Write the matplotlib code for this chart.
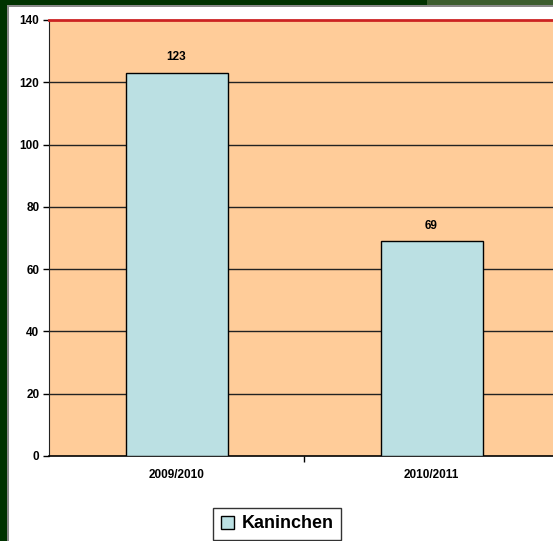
import matplotlib.pyplot as plt
import matplotlib.patches as patches
import numpy as np

plt.rcParams["font.family"] = ["Liberation Sans", "DejaVu Sans"]

seasons = ["2009/2010", "2010/2011"]
kaninchen = [123, 69]
yticks = [0, 20, 40, 60, 80, 100, 120, 140]

W, H = 553, 541
fig = plt.figure(figsize=(W / 100, H / 100), dpi=100, facecolor="#003300")

# white chart area, framed by the dark green window edge
fig.patches.append(patches.Rectangle((8 / W, 0), 1, (H - 7) / H, transform=fig.transFigure,
                                     facecolor="white", edgecolor="none", zorder=-2))
fig.patches.append(patches.Rectangle((427 / W, (H - 6) / H), 1, 6 / H, transform=fig.transFigure,
                                     facecolor="#3d5e2f", edgecolor="none", zorder=-2))
fig.patches.append(patches.Rectangle((7 / W, 0), 2 / W, (H - 6) / H, transform=fig.transFigure,
                                     facecolor="#8a8a8a", edgecolor="none", zorder=-1))
fig.patches.append(patches.Rectangle((7 / W, (H - 7) / H), 1, 1.5 / H, transform=fig.transFigure,
                                     facecolor="#8a8a8a", edgecolor="none", zorder=-1))

ax = fig.add_axes([49 / W, 85 / H, 510 / W, 436 / H])
ax.set_facecolor("#FFCC99")

x = np.arange(len(seasons))
bars = ax.bar(x, kaninchen, width=0.4, color="#BBE0E3", edgecolor="black", linewidth=1,
              label="Kaninchen", zorder=3)
for b, v in zip(bars, kaninchen):
    ax.text(b.get_x() + b.get_width() / 2, v + 5, str(v), ha="center", va="center",
            fontsize=8.5, fontweight="bold", zorder=4)

ax.set_xlim(-0.5, 1.5)
ax.set_ylim(0, 140)
ax.set_yticks(yticks)
ax.set_yticklabels([str(t) for t in yticks], fontsize=8.5, fontweight="bold")
for t in yticks[1:-1]:
    ax.axhline(t, color="#222222", linewidth=1, zorder=1)

ax.set_xticks(x)
ax.set_xticklabels(seasons, fontsize=8.5, fontweight="bold")
ax.tick_params(axis="x", length=0, pad=9)
ax.set_xticks([0.5], minor=True)
ax.tick_params(axis="x", which="minor", length=4, width=1, direction="out")
ax.tick_params(axis="y", length=4, width=1, direction="out", pad=3)

ax.spines["right"].set_visible(False)
ax.spines["top"].set_color("#cc2222")
ax.spines["top"].set_linewidth(2)
ax.spines["left"].set_color("#222222")
ax.spines["bottom"].set_color("black")
ax.spines["bottom"].set_linewidth(1.2)

leg = fig.legend(handles=[bars], labels=["Kaninchen"], loc="center",
                 bbox_to_anchor=(277 / W, (H - 524) / H), prop={"size": 13, "weight": "bold"},
                 frameon=True, fancybox=False, edgecolor="black", handlelength=0.75,
                 handleheight=0.75, handletextpad=0.4, borderpad=0.4)
leg.get_frame().set_linewidth(1)

fig.savefig("out.png", dpi=100, facecolor=fig.get_facecolor())
